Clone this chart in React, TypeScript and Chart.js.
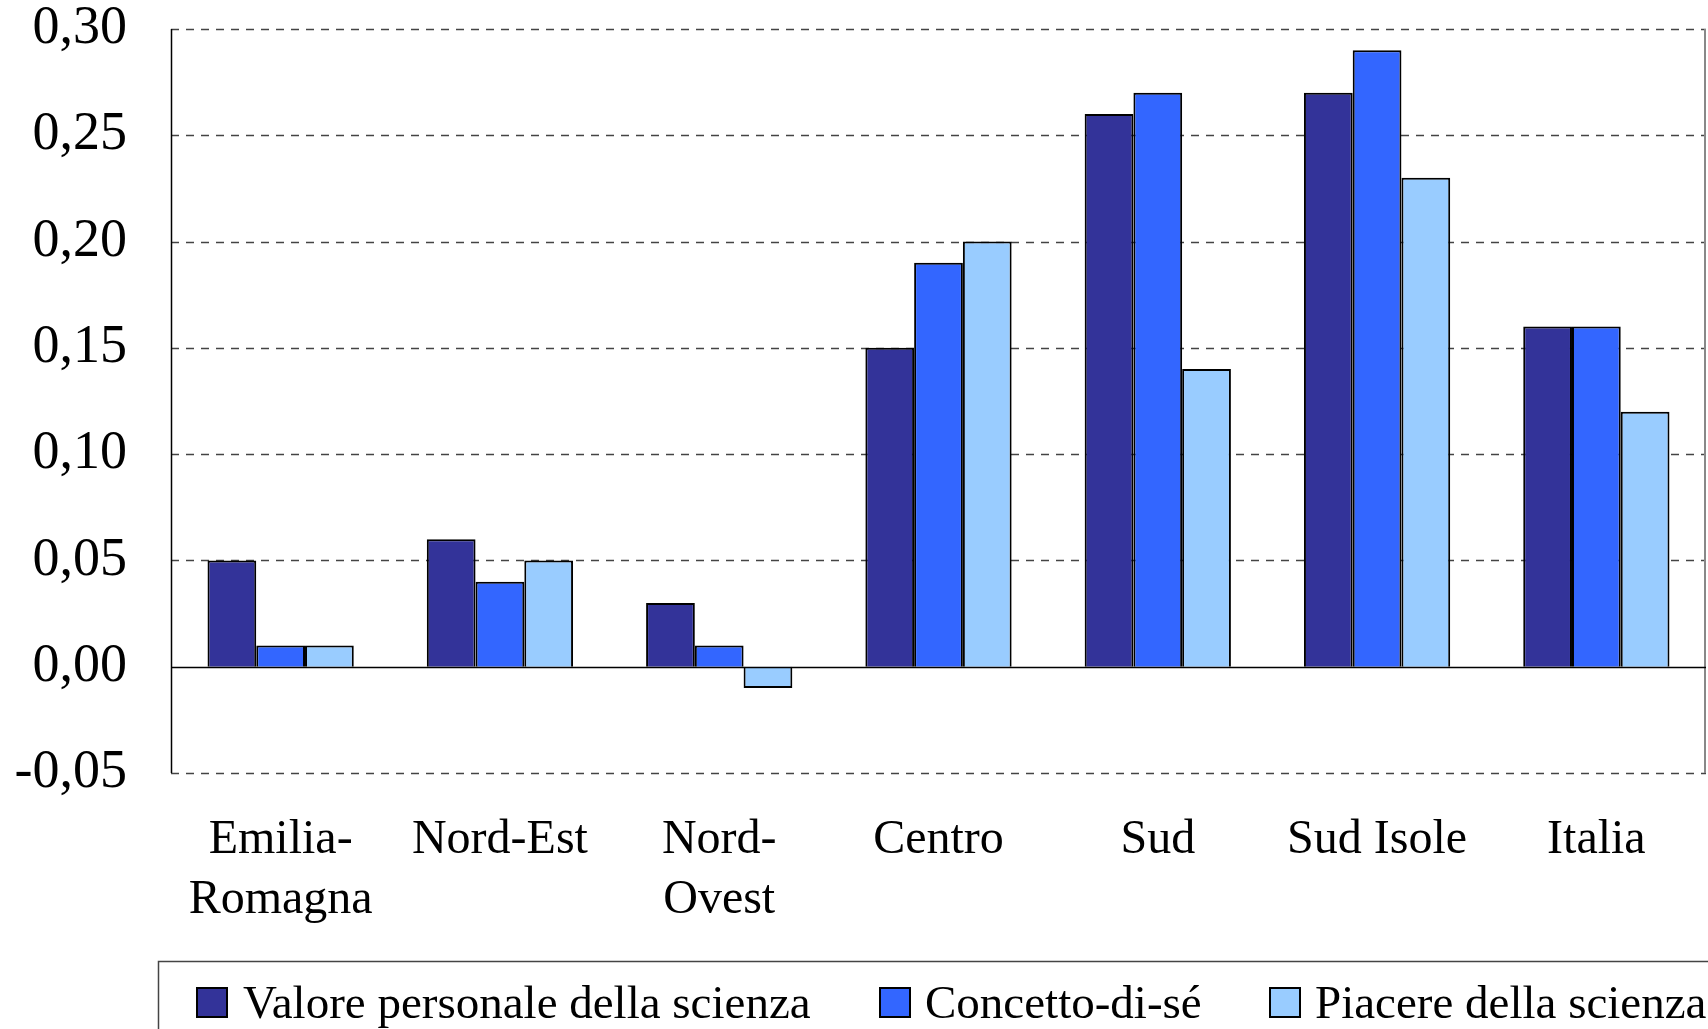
import React, { useEffect, useRef } from "react";
import { Chart, registerables } from "chart.js";

Chart.register(...registerables);

const categories: (string | string[])[] = [
  ["Emilia-", "Romagna"],
  "Nord-Est",
  ["Nord-", "Ovest"],
  "Centro",
  "Sud",
  "Sud Isole",
  "Italia",
];
const seriesNames = ["Valore personale della scienza", "Concetto-di-sé", "Piacere della scienza"];
const valorePersonale = [0.05, 0.06, 0.03, 0.15, 0.26, 0.27, 0.16];
const concettoDiSe = [0.01, 0.04, 0.01, 0.19, 0.27, 0.29, 0.16];
const piacere = [0.01, 0.05, -0.01, 0.2, 0.14, 0.23, 0.12];
const seriesColors = ["#333399", "#3366FF", "#99CCFF"];
const yMin = -0.05;
const yMax = 0.3;
const yStep = 0.05;

const FONT = "'Liberation Serif', 'Times New Roman', serif";

const frameAndGrid = {
  id: "frameAndGrid",
  beforeDatasetsDraw(chart: any) {
    const { ctx, chartArea } = chart;
    const y = chart.scales.y;
    ctx.save();
    y.ticks.forEach((t: any) => {
      const py = Math.round(y.getPixelForValue(t.value)) + 0.5;
      if (Math.abs(t.value) < 1e-9) return;
      ctx.beginPath();
      ctx.setLineDash([8, 7]);
      ctx.strokeStyle = "#444444";
      ctx.lineWidth = 1.3;
      ctx.moveTo(chartArea.left, py);
      ctx.lineTo(chartArea.right, py);
      ctx.stroke();
    });
    ctx.setLineDash([]);
    ctx.beginPath();
    ctx.strokeStyle = "#000";
    ctx.lineWidth = 1.5;
    ctx.moveTo(chartArea.left + 0.5, chartArea.top);
    ctx.lineTo(chartArea.left + 0.5, chartArea.bottom);
    ctx.stroke();
    ctx.beginPath();
    ctx.strokeStyle = "#888";
    ctx.lineWidth = 2;
    ctx.moveTo(chartArea.right - 1, chartArea.top);
    ctx.lineTo(chartArea.right - 1, chartArea.bottom);
    ctx.stroke();
    ctx.restore();
  },
  afterDatasetsDraw(chart: any) {
    const { ctx, chartArea } = chart;
    const y = chart.scales.y;
    const py = Math.round(y.getPixelForValue(0)) + 0.5;
    ctx.save();
    ctx.beginPath();
    ctx.strokeStyle = "#000";
    ctx.lineWidth = 1.3;
    ctx.moveTo(chartArea.left, py);
    ctx.lineTo(chartArea.right, py);
    ctx.stroke();
    ctx.restore();
  },
  afterDraw(chart: any) {
    const { ctx } = chart;
    ctx.save();
    ctx.strokeStyle = "#444";
    ctx.lineWidth = 1.5;
    ctx.strokeRect(158.5, 961.5, 1700, 200);
    const boxX = [197, 880, 1270];
    const textX = [243, 925, 1315];
    ctx.font = `47px ${FONT}`;
    ctx.textBaseline = "alphabetic";
    seriesNames.forEach((name, i) => {
      ctx.fillStyle = seriesColors[i];
      ctx.fillRect(boxX[i], 988, 30, 29);
      ctx.lineWidth = 2;
      ctx.strokeStyle = "#000";
      ctx.strokeRect(boxX[i], 988, 30, 29);
      ctx.fillStyle = "#000";
      ctx.fillText(name, textX[i], 1018);
    });
    ctx.restore();
  },
};

export default function App() {
  const ref = useRef<HTMLCanvasElement | null>(null);
  useEffect(() => {
    if (!ref.current) return;
    const datasets = [valorePersonale, concettoDiSe, piacere].map((data, i) => ({
      label: seriesNames[i],
      data,
      backgroundColor: seriesColors[i],
      borderColor: "#000",
      borderWidth: 2,
      categoryPercentage: 0.667,
      barPercentage: 1.0,
    }));
    const chart = new Chart(ref.current, {
      type: "bar",
      data: { labels: categories, datasets },
      options: {
        responsive: false,
        animation: false,
        layout: { padding: { top: 29, right: 2, left: 0, bottom: 0 } },
        plugins: { legend: { display: false }, tooltip: { enabled: false } },
        scales: {
          x: {
            grid: { display: false, drawTicks: false },
            border: { display: false },
            ticks: {
              color: "#000",
              padding: 37,
              maxRotation: 0,
              autoSkip: false,
              font: { family: FONT, size: 48, lineHeight: 1.25 },
            },
            afterFit: (s: any) => {
              s.height = 256;
              s.paddingLeft = 0;
              s.paddingRight = 0;
              s.paddingTop = 0;
              s.paddingBottom = 0;
            },
          },
          y: {
            min: yMin,
            max: yMax,
            grid: { display: false, drawTicks: false },
            border: { display: false },
            ticks: {
              stepSize: yStep,
              color: "#000",
              padding: 44,
              font: { family: FONT, size: 54 },
              callback: (v: any) => (Math.round(Number(v) * 100) / 100).toFixed(2).replace(".", ","),
            },
            afterFit: (s: any) => {
              s.width = 171;
              s.paddingTop = 0;
              s.paddingBottom = 0;
              s.paddingLeft = 0;
              s.paddingRight = 0;
            },
          },
        },
      },
      plugins: [frameAndGrid],
    });
    return () => chart.destroy();
  }, []);
  return (
    <div style={{ position: "fixed", left: 0, top: 0, width: 1708, height: 1029, background: "#fff" }}>
      <canvas ref={ref} width={1708} height={1029} style={{ display: "block" }} />
    </div>
  );
}
